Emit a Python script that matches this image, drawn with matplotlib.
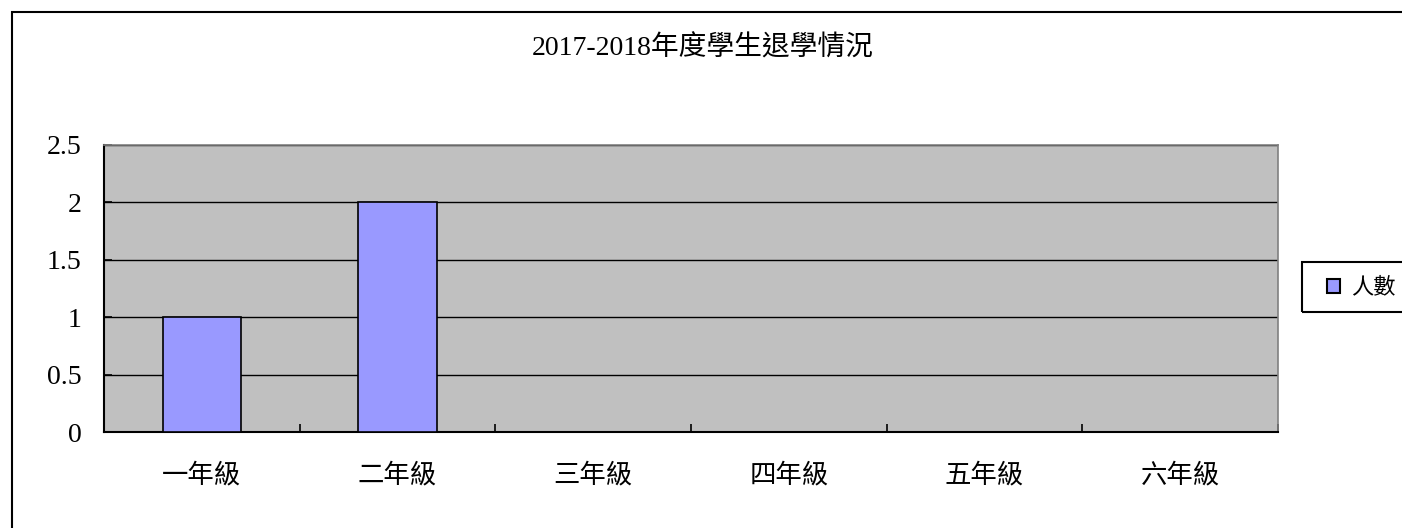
import numpy as np
import matplotlib.pyplot as plt
from matplotlib.patches import Rectangle, Patch
from matplotlib.ticker import FuncFormatter

plt.rcParams['font.family'] = ['Liberation Serif', 'Noto Sans CJK TC']

title = '2017-2018年度學生退學情況'
grades = ['一年級', '二年級', '三年級', '四年級', '五年級', '六年級']
counts = [1, 2, 0, 0, 0, 0]
series_name = '人數'
yticks = [0, 0.5, 1, 1.5, 2, 2.5]

W, H = 1402, 528
fig = plt.figure(figsize=(W / 100, H / 100), dpi=100)

# outer chart frame (cut off at right and bottom like the original)
fig.patches.append(Rectangle((12 / W, -0.1), 1.2, 1 - 12 / H + 0.1,
                             transform=fig.transFigure, fill=False,
                             edgecolor='black', lw=1.5))
# legend box, also cut off at the right
fig.patches.append(Rectangle((1302 / W, 1 - 312 / H), 0.2, 50 / H,
                             transform=fig.transFigure, fill=False,
                             edgecolor='black', lw=1.5))

ax = fig.add_axes([104 / W, 1 - 432 / H, (1278 - 104) / W, (432 - 145) / H])
ax.set_facecolor('#C0C0C0')

x = np.arange(len(grades))
ax.bar(x, counts, width=0.4, color='#9999FF', edgecolor='black', lw=1.2,
       zorder=3, label=series_name)

ax.set_xlim(-0.5, len(grades) - 0.5)
ax.set_ylim(0, 2.5)
ax.set_yticks(yticks)
ax.yaxis.set_major_formatter(FuncFormatter(lambda v, p: '%g' % v))
for v in yticks[1:]:
    ax.axhline(v, color='black', lw=1, zorder=2)

# category boundary ticks + labels at the centres
ax.set_xticks(np.arange(-0.5, len(grades)))
ax.set_xticklabels([])
ax.set_xticks(x, minor=True)
ax.set_xticklabels(grades, minor=True, fontsize=19)
ax.tick_params(axis='x', which='major', direction='in', length=6, width=1.2)
ax.tick_params(axis='x', which='minor', length=0, pad=22)
ax.tick_params(axis='y', direction='in', length=6, width=1.2, pad=16,
               labelsize=20)

for s in ['left', 'bottom']:
    ax.spines[s].set_color('black')
    ax.spines[s].set_linewidth(1.5)
for s in ['top', 'right']:
    ax.spines[s].set_color('#808080')
    ax.spines[s].set_linewidth(1.2)

fig.text(703 / W, 1 - 48 / H, title, ha='center', va='center', fontsize=20)

leg = fig.legend(handles=[Patch(facecolor='#9999FF', edgecolor='black', lw=1.5,
                                label=series_name)],
                 loc='center left', bbox_to_anchor=(1327 / W, 1 - 288 / H),
                 fontsize=16, frameon=False, handlelength=0.6,
                 handleheight=0.6, handletextpad=0.5, borderpad=0,
                 borderaxespad=0)

fig.savefig('out.png', dpi=100)
